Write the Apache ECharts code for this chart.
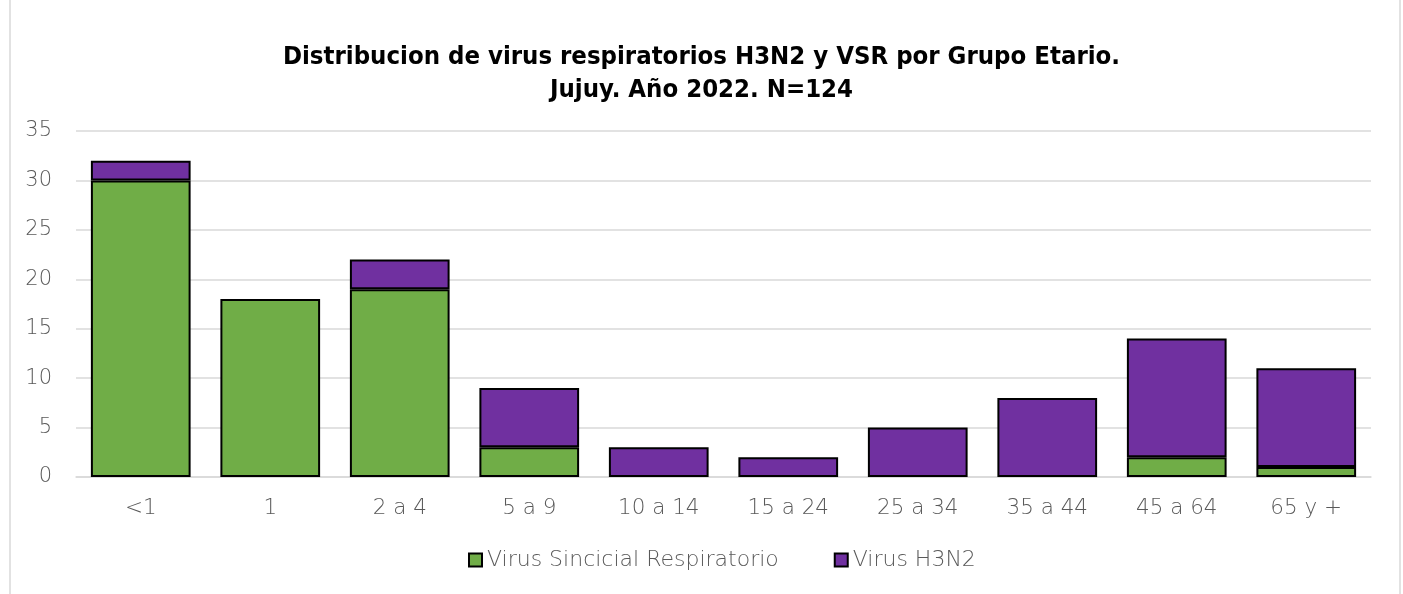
<!DOCTYPE html>
<html><head><meta charset="utf-8">
<script src="https://cdn.jsdelivr.net/npm/echarts@6/dist/echarts.min.js"></script>
<style>html,body{margin:0;padding:0;background:#fff}#c{width:1403px;height:594px}</style>
</head><body><div id="c"></div>
<script>
const categories = ['<1','1','2 a 4','5 a 9','10 a 14','15 a 24','25 a 34','35 a 44','45 a 64','65 y +'];
const vsr = [30,18,19,3,0,0,0,0,2,1];
const h3n2 = [2,0,3,6,3,2,5,8,12,10];
const yTicks = {min:0, max:35, interval:5};
const titleText = 'Distribucion de virus respiratorios H3N2 y VSR por Grupo Etario.\nJujuy. Año 2022. N=124';
const seriesNames = ['Virus Sincicial Respiratorio','Virus H3N2'];

const noZero = arr => arr.map(v => v === 0 ? '-' : v);
const chart = echarts.init(document.getElementById('c'));
const font = '"DejaVu Sans", sans-serif';
chart.setOption({
  animation:false,
  backgroundColor:'#fff',
  title:{text:titleText,left:'center',top:36,
    textStyle:{fontFamily:'"Liberation Sans Narrow","DejaVu Sans Condensed",sans-serif',fontWeight:'bold',fontSize:25.5,color:'#000',lineHeight:33}},
  graphic:[{type:'rect',shape:{x:10,y:-10,width:1390,height:620},style:{fill:'none',stroke:'#d9d9d9',lineWidth:1.5},silent:true}],
  legend:{bottom:18,left:463,itemWidth:13,itemHeight:13,itemGap:55,
    textStyle:{fontFamily:font,fontWeight:200,fontSize:22,color:'#595959'},icon:'rect'},
  grid:{left:76,right:32,top:131,bottom:117},
  xAxis:{type:'category',data:categories,
    axisLine:{lineStyle:{color:'#d9d9d9',width:1.5}},axisTick:{show:false},
    axisLabel:{fontFamily:font,fontWeight:200,fontSize:21.5,color:'#595959',margin:20}},
  yAxis:{type:'value',min:yTicks.min,max:yTicks.max,interval:yTicks.interval,
    axisLine:{show:false},axisTick:{show:false},
    splitLine:{lineStyle:{color:'#d9d9d9',width:1.5}},
    axisLabel:{fontFamily:font,fontWeight:200,fontSize:21,color:'#595959',margin:24}},
  series:[
    {name:seriesNames[0],type:'bar',stack:'a',data:noZero(vsr),barWidth:'77%',
     itemStyle:{color:'#70AD47',borderColor:'#000',borderWidth:2}},
    {name:seriesNames[1],type:'bar',stack:'a',data:noZero(h3n2),barWidth:'77%',
     itemStyle:{color:'#7030A0',borderColor:'#000',borderWidth:2}}
  ]
});
</script></body></html>
